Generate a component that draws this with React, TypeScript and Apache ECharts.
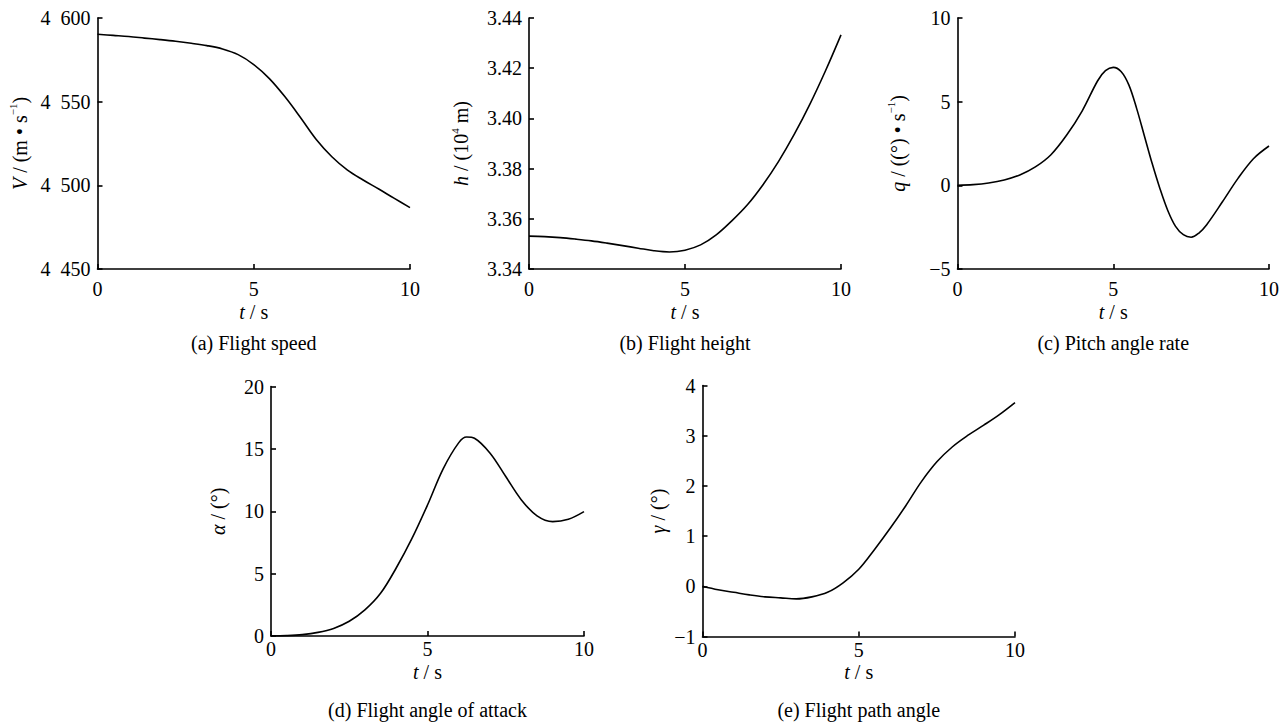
import React, { useEffect, useRef } from "react";
import * as echarts from "echarts";

const timeS = [0, 0.5, 1, 1.5, 2, 2.5, 3, 3.5, 4, 4.5, 5, 5.5, 6, 6.5, 7, 7.5, 8, 8.5, 9, 9.5, 10];
const speedV = [4590.3, 4589.6, 4588.9, 4588.0, 4587.1, 4586.1, 4584.9, 4583.5, 4581.5, 4578.1, 4572.2, 4563.8, 4552.9, 4540.4, 4527.4, 4517.1, 4509.1, 4503.2, 4497.8, 4492.2, 4486.7];
const heightH = [3.3531, 3.3529, 3.3525, 3.3519, 3.3512, 3.3503, 3.3493, 3.3483, 3.3473, 3.3468, 3.3475, 3.3496, 3.3536, 3.3592, 3.3656, 3.3736, 3.3829, 3.3936, 3.4056, 3.4189, 3.4333];
const timeQ = [0, 0.5, 1, 1.5, 2, 2.5, 3, 3.5, 4, 4.5, 4.75, 5, 5.25, 5.5, 5.75, 6, 6.25, 6.5, 6.75, 7, 7.25, 7.5, 7.75, 8, 8.5, 9, 9.5, 10];
const pitchRateQ = [0, 0.04, 0.14, 0.32, 0.62, 1.1, 1.83, 2.99, 4.44, 6.25, 6.85, 7.05, 6.8, 6.0, 4.6, 2.95, 1.3, -0.2, -1.5, -2.45, -2.95, -3.1, -2.85, -2.35, -1.0, 0.4, 1.59, 2.35];
const timeA = [0, 0.5, 1, 1.5, 2, 2.5, 3, 3.5, 4, 4.5, 5, 5.5, 6, 6.25, 6.5, 7, 7.5, 8, 8.5, 9, 9.5, 10];
const attackAlpha = [0, 0.03, 0.11, 0.29, 0.61, 1.18, 2.09, 3.42, 5.45, 7.8, 10.5, 13.4, 15.5, 15.95, 15.85, 14.65, 12.78, 10.91, 9.63, 9.17, 9.36, 9.97];
const pathGamma = [0, -0.07, -0.12, -0.17, -0.21, -0.23, -0.25, -0.21, -0.12, 0.07, 0.34, 0.73, 1.15, 1.6, 2.08, 2.48, 2.78, 3.01, 3.21, 3.42, 3.66];

const captions = [
  "(a) Flight speed",
  "(b) Flight height",
  "(c) Pitch angle rate",
  "(d) Flight angle of attack",
  "(e) Flight path angle",
];
const yNames = [
  "{i|V} / (m • s{sup|−1})",
  "{i|h} / (10{sup|4} m)",
  "{i|q} / ((°) • s{sup|−1})",
  "{i|α} / (°)",
  "{i|γ} / (°)",
];
const yMins = [4450, 3.34, -5, 0, -1];
const yMaxs = [4600, 3.44, 10, 20, 4];
const yIntervals = [50, 0.02, 5, 5, 1];

const FONT = "'Liberation Serif', 'Times New Roman', serif";
const FS = 20;

const grids = [
  { left: 97.5, top: 18, width: 312.5, height: 251 },
  { left: 529, top: 18, width: 312, height: 251 },
  { left: 957.5, top: 18, width: 311.5, height: 251 },
  { left: 271, top: 386.5, width: 313, height: 249.5 },
  { left: 702.5, top: 385.5, width: 312.5, height: 251 },
];
const nameGaps = [66, 56, 48, 41, 33];
const xLabelMargins = [10, 10, 10, 3, 3];
const captionYs = [343, 343, 343, 710, 710];

function fmtY(i: number, v: number): string {
  const r = Math.round(v * 1000) / 1000;
  if (i === 0) {
    const th = Math.floor(r / 1000);
    const rest = String(Math.round(r - th * 1000)).padStart(3, "0");
    return th + "\u2002" + rest;
  }
  if (i === 1) return r.toFixed(2);
  return String(r).replace("-", "\u2212");
}

const richStyles = {
  i: { fontFamily: FONT, fontSize: FS, fontStyle: "italic", color: "#000", lineHeight: 24 },
  sup: { fontFamily: FONT, fontSize: 11, color: "#000", verticalAlign: "top", lineHeight: 12 },
};

export default function App() {
  const ref = useRef<HTMLDivElement>(null);
  useEffect(() => {
    document.body.style.margin = "0";
    if (!ref.current) return;
    const chart = echarts.init(ref.current, undefined, { renderer: "svg" });
    const seriesData = [
      timeS.map((t, k) => [t, speedV[k]]),
      timeS.map((t, k) => [t, heightH[k]]),
      timeQ.map((t, k) => [t, pitchRateQ[k]]),
      timeA.map((t, k) => [t, attackAlpha[k]]),
      timeS.map((t, k) => [t, pathGamma[k]]),
    ];
    const axisLine = { show: true, onZero: false, lineStyle: { color: "#000", width: 1.6 } };
    const axisTick = { show: true, inside: true, length: 5, lineStyle: { color: "#000", width: 1.6 } };
    const option: any = {
      animation: false,
      backgroundColor: "#fff",
      grid: grids.map((g) => ({ ...g, containLabel: false })),
      xAxis: grids.map((_, i) => ({
        type: "value",
        gridIndex: i,
        min: 0,
        max: 10,
        interval: 5,
        axisLine,
        axisTick,
        splitLine: { show: false },
        axisLabel: { color: "#000", fontFamily: FONT, fontSize: FS, margin: xLabelMargins[i] },
        name: "{i|t} / s",
        nameLocation: "middle",
        nameGap: i < 3 ? 26 : 21,
        nameTextStyle: { color: "#000", fontFamily: FONT, fontSize: FS, lineHeight: 24, rich: richStyles },
      })),
      yAxis: grids.map((_, i) => ({
        type: "value",
        gridIndex: i,
        min: yMins[i],
        max: yMaxs[i],
        interval: yIntervals[i],
        axisLine,
        axisTick,
        splitLine: { show: false },
        axisLabel: {
          color: "#000",
          fontFamily: FONT,
          fontSize: FS,
          margin: 7,
          formatter: (v: number) => fmtY(i, v),
        },
        name: yNames[i],
        nameLocation: "middle",
        nameGap: nameGaps[i],
        nameTextStyle: { color: "#000", fontFamily: FONT, fontSize: FS, lineHeight: 24, rich: richStyles },
      })),
      series: seriesData.map((d, i) => ({
        type: "line",
        xAxisIndex: i,
        yAxisIndex: i,
        data: d,
        smooth: 0.35,
        showSymbol: false,
        symbol: "none",
        lineStyle: { color: "#000", width: 1.6 },
      })),
      graphic: captions.map((c, i) => ({
        type: "text",
        x: grids[i].left + grids[i].width / 2,
        y: captionYs[i],
        style: {
          text: c,
          fill: "#000",
          font: `${FS}px ${FONT}`,
          textAlign: "center",
          textVerticalAlign: "middle",
        },
      })),
    };
    chart.setOption(option);
    return () => chart.dispose();
  }, []);
  return <div ref={ref} style={{ width: 1285, height: 723 }} />;
}
